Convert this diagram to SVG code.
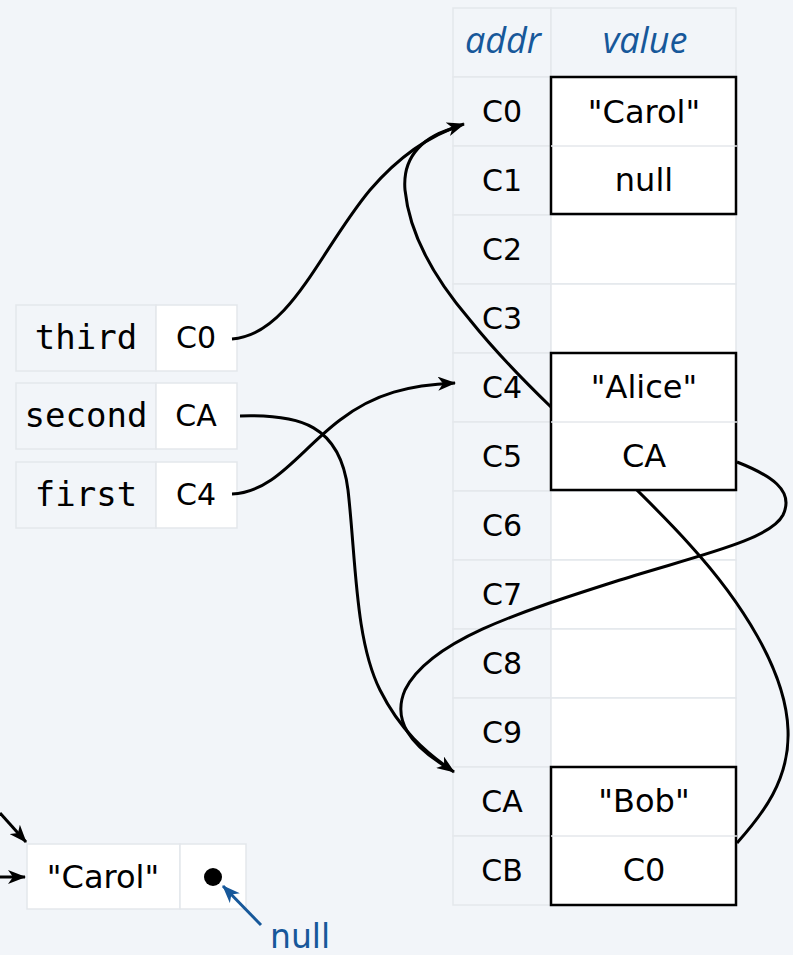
<svg xmlns="http://www.w3.org/2000/svg" width="793" height="955" viewBox="0 0 793 955">
  <style>
    .bg { fill: #f2f5f9; }
    .acell { fill: #f2f5f9; stroke: #e4e7eb; stroke-width: 1.5; }
    .vcell { fill: #ffffff; stroke: #e4e7eb; stroke-width: 1.5; }
    .box { fill: #ffffff; stroke: #000000; stroke-width: 2.5; }
    .sep { stroke: #e4e7eb; stroke-width: 1.5; }
    .addr { font-family: "DejaVu Sans", "Open Sans", sans-serif; font-size: 30px; fill: #000; text-anchor: middle; }
    .txt { font-family: "DejaVu Sans", "Open Sans", sans-serif; font-size: 32px; fill: #000; text-anchor: middle; }
    .ref { font-family: "DejaVu Sans", "Open Sans", sans-serif; font-size: 30px; fill: #000; text-anchor: middle; }
    .mono { font-family: "DejaVu Sans Mono", "Liberation Mono", monospace; font-size: 34px; fill: #000; text-anchor: middle; }
    .hdr { font-family: "Open Sans", "DejaVu Sans", sans-serif; font-style: italic; font-size: 36px; fill: #17589a; text-anchor: middle; }
    .blue { font-family: "DejaVu Sans", "Open Sans", sans-serif; font-size: 33px; fill: #17589a; }
    .wire { fill: none; stroke: #000; stroke-width: 3; }
  </style>
  <defs>
    <marker id="arrow" viewBox="0 0 18 14" refX="17" refY="7" markerWidth="18" markerHeight="14" markerUnits="userSpaceOnUse" orient="auto">
      <path d="M0,0 L18,7 L0,14 L5,7 Z" fill="#000"/>
    </marker>
    <marker id="arrowBlue" viewBox="0 0 18 14" refX="17" refY="7" markerWidth="18" markerHeight="14" markerUnits="userSpaceOnUse" orient="auto">
      <path d="M0,0 L18,7 L0,14 L5,7 Z" fill="#17589a"/>
    </marker>
  </defs>

  <rect class="bg" x="0" y="0" width="793" height="955"/>

  <!-- memory table grid -->
  <g id="memory-grid">
    <rect class="acell" x="453" y="8" width="98" height="69"/>
    <rect class="acell" x="551" y="8" width="185" height="69"/>
    <text class="hdr" x="503" y="53">addr</text>
    <text class="hdr" x="645" y="53">value</text>

    <rect class="acell" x="453" y="77" width="98" height="69"/>
    <rect class="acell" x="453" y="146" width="98" height="69"/>
    <rect class="acell" x="453" y="215" width="98" height="69"/>
    <rect class="acell" x="453" y="284" width="98" height="69"/>
    <rect class="acell" x="453" y="353" width="98" height="69"/>
    <rect class="acell" x="453" y="422" width="98" height="69"/>
    <rect class="acell" x="453" y="491" width="98" height="69"/>
    <rect class="acell" x="453" y="560" width="98" height="69"/>
    <rect class="acell" x="453" y="629" width="98" height="69"/>
    <rect class="acell" x="453" y="698" width="98" height="69"/>
    <rect class="acell" x="453" y="767" width="98" height="69"/>
    <rect class="acell" x="453" y="836" width="98" height="69"/>

    <rect class="vcell" x="551" y="215" width="185" height="69"/>
    <rect class="vcell" x="551" y="284" width="185" height="69"/>
    <rect class="vcell" x="551" y="491" width="185" height="69"/>
    <rect class="vcell" x="551" y="560" width="185" height="69"/>
    <rect class="vcell" x="551" y="629" width="185" height="69"/>
    <rect class="vcell" x="551" y="698" width="185" height="69"/>

    <text class="addr" x="502" y="122">C0</text>
    <text class="addr" x="502" y="191">C1</text>
    <text class="addr" x="502" y="260">C2</text>
    <text class="addr" x="502" y="329">C3</text>
    <text class="addr" x="502" y="398">C4</text>
    <text class="addr" x="502" y="467">C5</text>
    <text class="addr" x="502" y="536">C6</text>
    <text class="addr" x="502" y="605">C7</text>
    <text class="addr" x="502" y="674">C8</text>
    <text class="addr" x="502" y="743">C9</text>
    <text class="addr" x="502" y="812">CA</text>
    <text class="addr" x="502" y="881">CB</text>
  </g>

  <!-- variables -->
  <g id="var-third">
    <rect class="acell" x="16" y="305" width="140" height="66"/>
    <rect class="vcell" x="156" y="305" width="81" height="66"/>
    <text class="mono" x="86" y="349">third</text>
    <text class="ref" x="196" y="348">C0</text>
  </g>
  <g id="var-second">
    <rect class="acell" x="16" y="383" width="140" height="66"/>
    <rect class="vcell" x="156" y="383" width="81" height="66"/>
    <text class="mono" x="86" y="427">second</text>
    <text class="ref" x="196" y="426">CA</text>
  </g>
  <g id="var-first">
    <rect class="acell" x="16" y="462" width="140" height="66"/>
    <rect class="vcell" x="156" y="462" width="81" height="66"/>
    <text class="mono" x="86" y="506">first</text>
    <text class="ref" x="196" y="505">C4</text>
  </g>

  <!-- references -->
  <g id="connectors">
    <path class="wire" d="M232,339 C290,335 320,250 370,190 C400,155 430,135 464,124" marker-end="url(#arrow)"/>
    <path class="wire" d="M232,494 C275,492 300,450 340,420 C375,393 410,385 455,383" marker-end="url(#arrow)"/>
    <path class="wire" d="M240,416 C300,414 340,425 348,490 C356,560 355,640 380,690 C400,730 425,752 454,772" marker-end="url(#arrow)"/>
    <path class="wire" d="M737,462 C770,475 795,490 783,515 C770,540 700,555 620,580 C520,612 430,640 405,690 C392,720 410,745 448,768"/>
    <path class="wire" d="M737,843 C762,815 790,780 788,730 C786,670 740,600 690,545 C650,500 600,455 551,407 C520,377 490,345 470,320 C440,285 410,240 405,190 C402,155 425,135 458,127"/>
  </g>

  <!-- node objects stored in memory -->
  <g id="node-carol">
    <rect class="box" x="551" y="77" width="185" height="137"/>
    <line class="sep" x1="551" y1="146" x2="737" y2="146"/>
    <text class="txt" x="644" y="123">"Carol"</text>
    <text class="txt" x="644" y="191">null</text>
  </g>
  <g id="node-alice">
    <rect class="box" x="551" y="353" width="185" height="137"/>
    <line class="sep" x1="551" y1="422" x2="737" y2="422"/>
    <text class="txt" x="644" y="398">"Alice"</text>
    <text class="txt" x="644" y="467">CA</text>
  </g>
  <g id="node-bob">
    <rect class="box" x="551" y="767" width="185" height="138"/>
    <line class="sep" x1="551" y1="836" x2="737" y2="836"/>
    <text class="txt" x="644" y="812">"Bob"</text>
    <text class="txt" x="644" y="881">C0</text>
  </g>

  <!-- list node drawn as a box with a null link -->
  <g id="list-node">
    <rect class="vcell" x="27" y="844" width="153" height="65"/>
    <rect class="vcell" x="180" y="844" width="66" height="65"/>
    <text class="txt" x="103" y="888">"Carol"</text>
    <circle cx="213" cy="877" r="9" fill="#000"/>
  </g>
  <g id="list-links">
    <path class="wire" d="M0,813 L26,842" marker-end="url(#arrow)"/>
    <path class="wire" d="M0,877 L25,877" marker-end="url(#arrow)"/>
    <path fill="none" stroke="#17589a" stroke-width="3" d="M261,925 L223,886" marker-end="url(#arrowBlue)"/>
  </g>
  <text class="blue" x="270" y="948">null</text>
</svg>
